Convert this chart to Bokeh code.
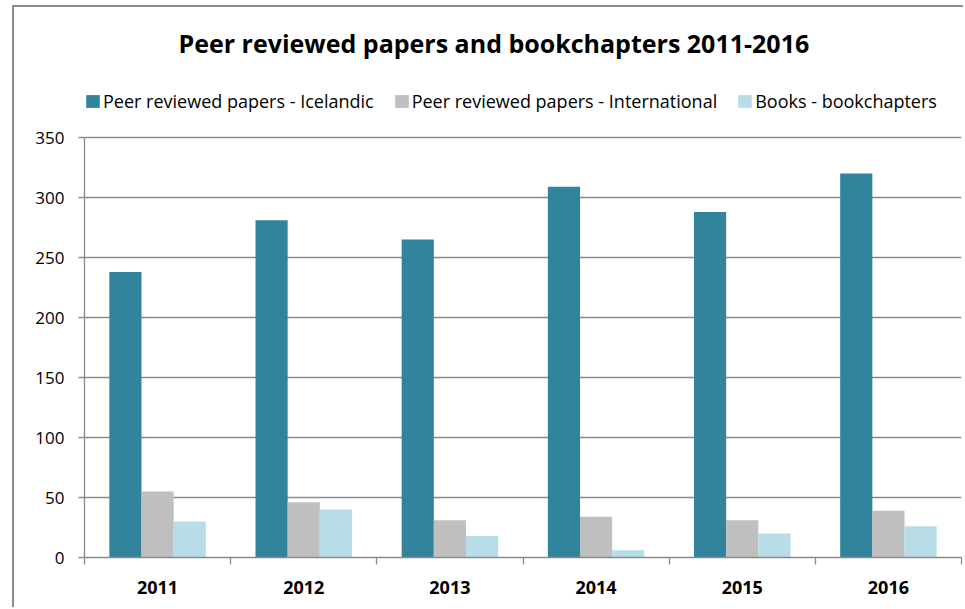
from bokeh.plotting import figure
from bokeh.models import (Legend, LegendItem, FixedTicker, CustomJSTickFormatter,
                          Range1d, ColumnDataSource)
from bokeh.embed import file_html
from bokeh.resources import INLINE

years = ["2011", "2012", "2013", "2014", "2015", "2016"]
icelandic = [238, 281, 265, 309, 288, 320]
international = [55, 46, 31, 34, 31, 39]
books = [30, 40, 18, 6, 20, 26]
series_names = ["Peer reviewed papers - Icelandic",
                "Peer reviewed papers - International",
                "Books - bookchapters"]
colors = ["#31849B", "#BFBFBF", "#B7DEE8"]
y_ticks = [0, 50, 100, 150, 200, 250, 300, 350]
y_max = 350

FONT = "Open Sans"
GRID = "#8a8a8a"

# layout (pixels)
W, H = 951, 602
MB_L, MB_R, MB_T, MB_B = 70, 4, 63, 52
frame_h = H - MB_T - MB_B
axis_h = 420  # pixel height of the 0..350 axis
y_end = y_max * frame_h / axis_h   # extra head-room inside the frame for the legend

p = figure(width=W, height=H, output_backend="svg", toolbar_location=None,
           x_range=Range1d(0, len(years)), y_range=Range1d(0, y_end),
           min_border_left=MB_L, min_border_right=MB_R, min_border_top=MB_T,
           min_border_bottom=MB_B,
           styles={"margin-left": "12px", "margin-top": "5px",
                   "border-left": "2px solid #8c8c8c",
                   "border-top": "2px solid #8c8c8c"})

p.title.text = "Peer reviewed papers and bookchapters 2011-2016"
p.title.text_font = FONT
p.title.text_font_size = "25px"
p.title.text_font_style = "bold"
p.title.text_color = "#000000"
p.title.align = "left"
p.title.offset = 94
p.title.standoff = 22

bw = 0.22
offsets = [-bw, 0.0, bw]
renderers = []
for vals, off, col in zip([icelandic, international, books], offsets, colors):
    src = ColumnDataSource(dict(x=[i + 0.5 + off for i in range(len(years))], top=vals))
    r = p.vbar(x="x", top="top", width=bw, bottom=0, source=src,
               fill_color=col, line_color=None)
    renderers.append(r)

legend = Legend(items=[LegendItem(label=n, renderers=[r]) for n, r in zip(series_names, renderers)],
                orientation="horizontal", location=(0, 444),
                label_text_font=FONT, label_text_font_size="18px",
                label_text_color="#000000",
                label_standoff=2, glyph_width=17, glyph_height=16,
                label_height=20, spacing=19, padding=0, margin=0,
                border_line_color=None, background_fill_alpha=0)
p.add_layout(legend, "center")

# y axis
p.yaxis.bounds = (0, y_max)
p.yaxis.ticker = FixedTicker(ticks=y_ticks)
p.yaxis.major_label_text_font = FONT
p.yaxis.major_label_text_font_size = "17px"
p.yaxis.major_label_text_color = "#000000"
p.yaxis.major_tick_out = 6
p.yaxis.major_tick_in = 0
p.yaxis.minor_tick_line_color = None
p.yaxis.axis_line_color = GRID
p.yaxis.axis_line_width = 1.3
p.yaxis.major_tick_line_color = GRID
p.yaxis.major_tick_line_width = 1.3
p.yaxis.major_label_standoff = 14

# x axis: labels at category centres, ticks at boundaries
p.xaxis.ticker = FixedTicker(ticks=[i + 0.5 for i in range(len(years))],
                             minor_ticks=list(range(len(years) + 1)))
p.xaxis.formatter = CustomJSTickFormatter(args=dict(labels=years),
                                          code="return labels[Math.floor(tick)];")
p.xaxis.major_tick_line_color = None
p.xaxis.major_tick_out = 0
p.xaxis.minor_tick_out = 7
p.xaxis.minor_tick_in = 0
p.xaxis.minor_tick_line_color = GRID
p.xaxis.minor_tick_line_width = 1.3
p.xaxis.axis_line_color = GRID
p.xaxis.axis_line_width = 1.3
p.xaxis.major_label_text_font = FONT
p.xaxis.major_label_text_font_size = "18px"
p.xaxis.major_label_text_font_style = "bold"
p.xaxis.major_label_text_color = "#000000"
p.xaxis.major_label_standoff = 16

p.xgrid.grid_line_color = None
p.ygrid.grid_line_color = GRID
p.ygrid.grid_line_width = 1.3
p.outline_line_color = None

open("out.html", "w").write(file_html(p, INLINE))
